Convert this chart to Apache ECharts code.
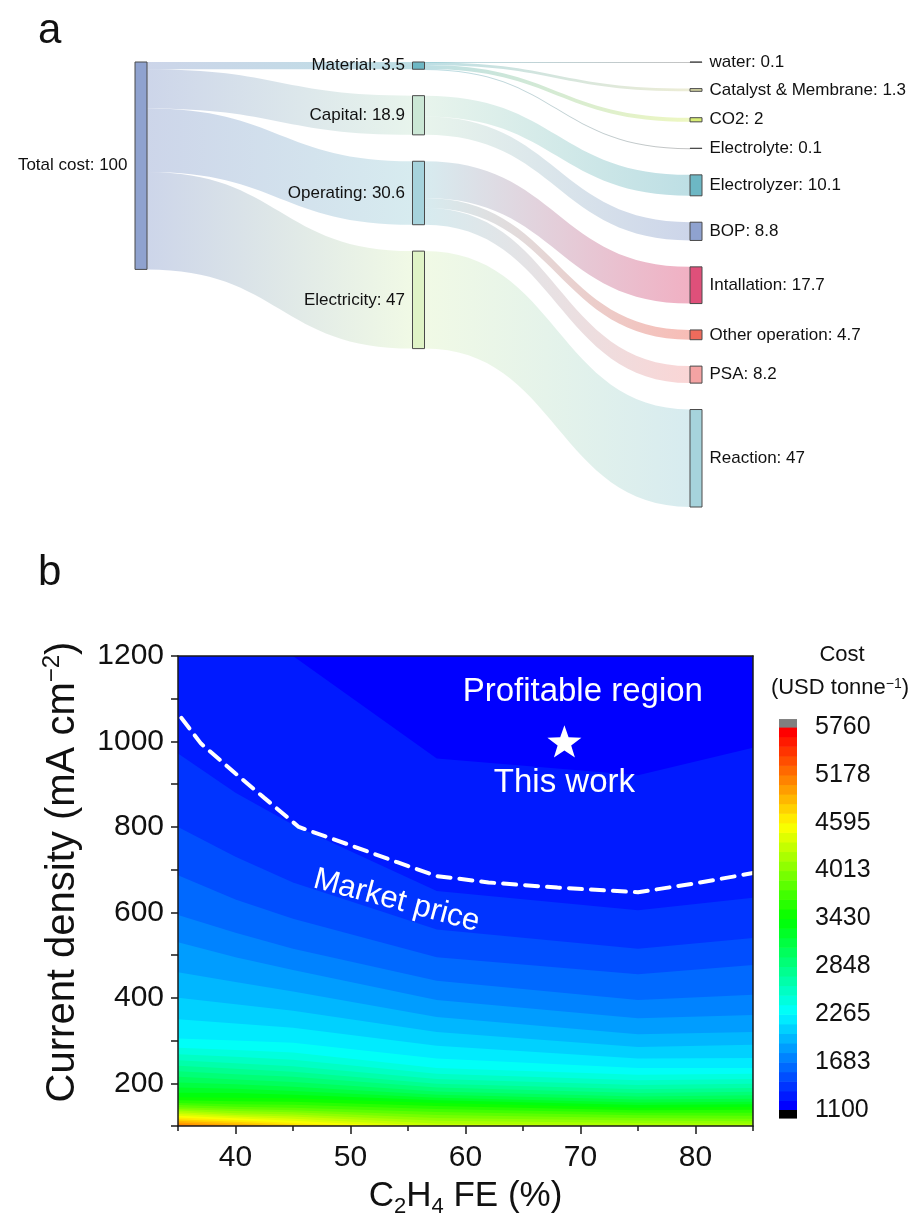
<!DOCTYPE html>
<html>
<head>
<meta charset="utf-8">
<script src="https://cdn.jsdelivr.net/npm/echarts@6/dist/echarts.min.js"></script>
<style>
html, body { margin: 0; padding: 0; background: #ffffff; }
#main { width: 918px; height: 1216px; }
</style>
</head>
<body>
<div id="main"></div>
<script>
// ---------- Panel a: cost breakdown ----------
const nodeNames = ['Total cost', 'Material', 'Capital', 'Operating', 'Electricity',
  'water', 'Catalyst & Membrane', 'CO2', 'Electrolyte', 'Electrolyzer', 'BOP',
  'Intallation', 'Other operation', 'PSA', 'Reaction'];
const nodeValues = [100, 3.5, 18.9, 30.6, 47, 0.1, 1.3, 2, 0.1, 10.1, 8.8, 17.7, 4.7, 8.2, 47];
const linkSources = ['Total cost', 'Total cost', 'Total cost', 'Total cost',
  'Material', 'Material', 'Material', 'Material', 'Capital', 'Capital',
  'Operating', 'Operating', 'Operating', 'Electricity'];
const linkTargets = ['Material', 'Capital', 'Operating', 'Electricity',
  'water', 'Catalyst & Membrane', 'CO2', 'Electrolyte', 'Electrolyzer', 'BOP',
  'Intallation', 'Other operation', 'PSA', 'Reaction'];
const linkValues = [3.5, 18.9, 30.6, 47, 0.1, 1.3, 2, 0.1, 10.1, 8.8, 17.7, 4.7, 8.2, 47];

// ---------- Panel b: cost map over C2H4 FE and current density ----------
const feTicks = [40, 50, 60, 70, 80];
const jTicks = [200, 400, 600, 800, 1000, 1200];
const costTicks = [1100, 1683, 2265, 2848, 3430, 4013, 4595, 5178, 5760];
const costLevels = [1100, 1216.5, 1333, 1449.5, 1566, 1682.5, 1799, 1915.5, 2032, 2148.5,
  2265, 2381.5, 2498, 2614.5, 2731, 2847.5, 2964, 3080.5, 3197, 3313.5,
  3430, 3546.5, 3663, 3779.5, 3896, 4012.5, 4129, 4245.5, 4362, 4478.5,
  4595, 4711.5, 4828, 4944.5, 5061, 5177.5, 5294, 5410.5, 5527, 5643.5, 5760];
// FE positions of the contour vertices
const contourFE = [35, 40, 45, 57.5, 75, 85];
// current density of each iso-cost line (levels 1, 2, 3, ...) at the FE positions
const contourJ = [
  [1330, 1265, 1200, 960, 921, 985],
  [972, 880, 805, 650, 605, 634],
  [800, 730, 670, 560, 515, 540],
  [687, 630, 585, 495, 455, 477],
  [594, 552, 515, 440, 395, 407],
  [530, 495, 465, 395, 352, 360],
  [460, 437, 415, 355, 315, 320],
  [400, 385, 370, 320, 285, 290],
  [350, 340, 330, 288, 258, 259],
  [305, 300, 295, 258, 236, 236],
  [283, 278, 272, 236, 220, 222],
  [268, 262, 255, 222, 207, 210],
  [254, 247, 240, 210, 196, 199],
  [241, 234, 227, 199, 186, 189],
  [228, 221, 215, 190, 177, 180],
  [215, 209, 203, 181, 169, 172],
  [202, 198, 192, 173, 162, 164],
  [190, 187, 182, 166, 155, 157],
  [178, 177, 173, 160, 149, 151],
  [167, 166, 165, 154, 143, 145],
  [160, 158, 157, 147, 137, 138],
  [154, 151, 150, 140, 131, 131],
  [149, 145, 143, 133, 125, 124],
  [144, 140, 137, 126, 119, 117],
  [140, 135, 132, 119, 113, 111],
  [136, 130, 127, 112, 107, 105],
  [132, 126, 122, 106, 101, 99],
  [128, 122, 117, 100, 95, 93],
  [124, 118, 112, 95, 90, 88],
  [120, 114, 107, 91, 86, 84],
  [116, 110, 103, 87, 82, 80],
  [112, 106, 99, 84, 79, 77],
  [108, 102, 95, 81, 76, 74],
  [104, 98, 91, 78, 73, 71],
  [100, 94, 87, 75, 70, 68],
  [97, 91, 84, 72, 67, 65]
];
// market price boundary
const marketFE = [35.3, 37, 40, 42.5, 45.5, 50, 54, 57.5, 62, 68, 75, 80, 85];
const marketJ = [1055, 995, 925, 868, 800, 757, 718, 685, 670, 658, 647, 668, 692];
const thisWork = [68.6, 1000];

// ---------- styles ----------
const FONT = '"Liberation Sans", Arial, Helvetica, sans-serif';
const nodeColors = {
  'Total cost': '#8fa2cf', 'Material': '#6db7c4', 'Capital': '#cbe7d5', 'Operating': '#a6d3dc',
  'Electricity': '#dff3c6', 'water': '#7a7a7a', 'Catalyst & Membrane': '#d6d6a4', 'CO2': '#d9ee76',
  'Electrolyte': '#7a7a7a', 'Electrolyzer': '#6db7c4', 'BOP': '#8fa2cf', 'Intallation': '#df507a',
  'Other operation': '#ee6b5c', 'PSA': '#f4a3a3', 'Reaction': '#a6d3dc'
};
const leftLabelled = ['Total cost', 'Material', 'Capital', 'Operating', 'Electricity'];
const plain = v => String(v);

// rainbow colour scale: blue -> cyan -> green -> yellow -> red
function ramp(t) {
  const stops = [[0, 0, 0, 255], [0.25, 0, 255, 255], [0.5, 0, 255, 0], [0.75, 255, 255, 0], [1, 255, 0, 0]];
  t = Math.max(0, Math.min(1, t));
  for (let i = 1; i < stops.length; i++) {
    if (t <= stops[i][0]) {
      const a = stops[i - 1], b = stops[i];
      const f = (t - a[0]) / (b[0] - a[0]);
      const c = [1, 2, 3].map(k => Math.round(a[k] + (b[k] - a[k]) * f));
      return 'rgb(' + c.join(',') + ')';
    }
  }
  return 'rgb(255,0,0)';
}
const bandCount = costLevels.length - 1;
const bandColor = i => ramp(i / (bandCount - 1));

// ---------- series ----------
const series = [];

series.push({
  type: 'sankey',
  left: 135, top: 62, width: 567, height: 445,
  nodeWidth: 12,
  nodeGap: 26.4,
  layoutIterations: 0,
  draggable: false,
  data: nodeNames.map((n, i) => ({
    name: n,
    value: nodeValues[i],
    itemStyle: { color: nodeColors[n] },
    label: { position: leftLabelled.indexOf(n) >= 0 ? 'left' : 'right' }
  })),
  links: linkSources.map((s, i) => ({ source: s, target: linkTargets[i], value: linkValues[i] })),
  itemStyle: { borderColor: '#4a4a4a', borderWidth: 1 },
  lineStyle: { color: 'gradient', opacity: 0.45, curveness: 0.5 },
  label: {
    fontSize: 17, color: '#111', fontFamily: FONT, distance: 7,
    formatter: p => p.name + ': ' + p.value
  },
  emphasis: { disabled: true }
});

// filled iso-cost bands, drawn from the highest level down
for (let k = contourJ.length; k >= 1; k--) {
  const row = contourJ[k - 1];
  series.push({
    type: 'line',
    xAxisIndex: 0, yAxisIndex: 0,
    data: contourFE.map((fe, i) => [fe, row[i]]),
    symbol: 'none',
    silent: true,
    lineStyle: { width: 0, opacity: 0 },
    areaStyle: { origin: 'end', color: bandColor(k - 1), opacity: 1 },
    z: 2
  });
}

// market price line
series.push({
  type: 'line',
  xAxisIndex: 0, yAxisIndex: 0,
  data: marketFE.map((fe, i) => [fe, marketJ[i]]),
  symbol: 'none', silent: true,
  lineStyle: { color: '#ffffff', width: 4, type: [13, 9], cap: 'round' },
  z: 5
});

// this work marker
series.push({
  type: 'scatter',
  xAxisIndex: 0, yAxisIndex: 0,
  data: [thisWork],
  symbol: 'path://M0,-10 L2.35,-3.24 L9.51,-3.09 L3.8,1.24 L5.88,8.09 L0,4.1 L-5.88,8.09 L-3.8,1.24 L-9.51,-3.09 L-2.35,-3.24 Z',
  symbolKeepAspect: true,
  symbolSize: 34,
  itemStyle: { color: '#ffffff', opacity: 1 },
  silent: true,
  z: 6
});

// annotations inside the map
series.push({
  type: 'scatter',
  xAxisIndex: 0, yAxisIndex: 0,
  symbolSize: 0,
  silent: true,
  z: 6,
  itemStyle: { opacity: 1 },
  data: [
    { name: 'Profitable region', value: [70.2, 1116] },
    { name: 'This work', value: [68.6, 903] },
    { name: 'Market price', value: [54.0, 627], label: { rotate: -15, fontSize: 31 } }
  ],
  label: {
    show: true, position: 'inside', formatter: '{b}', opacity: 1,
    color: '#ffffff', fontSize: 33, fontFamily: FONT
  }
});

// colour bar
const capSize = 97;
const barRows = costLevels.slice(0, -1).map((lo, i) => [lo, costLevels[i + 1], i]);
barRows.push([costLevels[bandCount], costLevels[bandCount] + capSize, -1]);
barRows.push([costLevels[0] - capSize, costLevels[0], -2]);
series.push({
  type: 'custom',
  xAxisIndex: 3, yAxisIndex: 2,
  data: barRows,
  silent: true,
  clip: false,
  renderItem: (params, api) => {
    const lo = api.value(0), hi = api.value(1), idx = api.value(2);
    const p0 = api.coord([0, hi]);
    const p1 = api.coord([1, lo]);
    const fill = idx === -1 ? '#808080' : (idx === -2 ? '#000000' : bandColor(idx));
    return {
      type: 'rect',
      shape: { x: p0[0], y: p0[1], width: p1[0] - p0[0], height: p1[1] - p0[1] + 0.6 },
      style: { fill: fill }
    };
  }
});

const axisLineStyle = { color: '#1a1a1a', width: 1.5 };

const option = {
  animation: false,
  backgroundColor: '#ffffff',
  textStyle: { fontFamily: FONT },
  grid: [
    {
      left: 178, top: 656, width: 575, height: 470, outerBoundsMode: 'none', containLabel: false,
      show: true, borderWidth: 0, backgroundColor: bandColor(contourJ.length)
    },
    { left: 779, top: 727, width: 18, height: 383, outerBoundsMode: 'none', containLabel: false }
  ],
  xAxis: [
    {
      gridIndex: 0, type: 'value', min: 35, max: 85, interval: 5, position: 'bottom', z: 10,
      axisLine: { lineStyle: axisLineStyle },
      axisTick: { length: 5, lineStyle: axisLineStyle },
      splitLine: { show: false },
      axisLabel: { customValues: feTicks, formatter: plain, fontSize: 30, color: '#111', margin: 17 },
      name: 'C{sub|2}H{sub|4} FE (%)',
      nameLocation: 'middle', nameGap: 46,
      nameTextStyle: {
        fontSize: 35, color: '#111', lineHeight: 44,
        rich: { sub: { fontSize: 22, lineHeight: 24, verticalAlign: 'bottom', color: '#111' } }
      }
    },
    {
      gridIndex: 0, type: 'value', min: 35, max: 85, position: 'bottom', z: 10,
      axisLine: { show: false },
      axisTick: { customValues: feTicks, length: 8, lineStyle: axisLineStyle },
      axisLabel: { show: false },
      splitLine: { show: false }
    },
    {
      gridIndex: 0, type: 'value', min: 35, max: 85, position: 'top', z: 10,
      axisLine: { lineStyle: axisLineStyle },
      axisTick: { show: false }, axisLabel: { show: false }, splitLine: { show: false }
    },
    {
      gridIndex: 1, type: 'value', min: 0, max: 1, show: false
    }
  ],
  yAxis: [
    {
      gridIndex: 0, type: 'value', min: 100, max: 1200, interval: 100, position: 'left', z: 10,
      axisLine: { lineStyle: axisLineStyle },
      axisTick: { length: 7, lineStyle: axisLineStyle },
      splitLine: { show: false },
      axisLabel: { customValues: jTicks, formatter: plain, fontSize: 30, color: '#111', margin: 14 },
      name: 'Current density (mA cm{sup|\u22122})',
      nameLocation: 'middle', nameGap: 86,
      nameTextStyle: {
        fontSize: 40, color: '#111', lineHeight: 46, padding: [0, 0, 0, 38],
        rich: { sup: { fontSize: 24, lineHeight: 24, verticalAlign: 'top', color: '#111' } }
      }
    },
    {
      gridIndex: 0, type: 'value', min: 100, max: 1200, position: 'right', z: 10,
      axisLine: { lineStyle: axisLineStyle },
      axisTick: { show: false }, axisLabel: { show: false }, splitLine: { show: false }
    },
    {
      gridIndex: 1, type: 'value', min: 1100, max: 5760, position: 'right',
      axisLine: { show: false }, axisTick: { show: false }, splitLine: { show: false },
      axisLabel: { customValues: costTicks, formatter: plain, fontSize: 25, color: '#111', margin: 18 }
    }
  ],
  graphic: [
    { type: 'text', left: 38, top: 10, style: { text: 'a', font: '42px ' + FONT, fill: '#111' } },
    { type: 'text', left: 38, top: 552, style: { text: 'b', font: '42px ' + FONT, fill: '#111' } },
    { type: 'text', x: 842, y: 655, style: { text: 'Cost', font: '22px ' + FONT, fill: '#111', align: 'center', verticalAlign: 'middle' } },
    {
      type: 'text', x: 840, y: 688,
      style: {
        text: '(USD tonne{sup|\u22121})', font: '22px ' + FONT, fill: '#111',
        align: 'center', verticalAlign: 'middle',
        rich: { sup: { fontSize: 14, lineHeight: 14, verticalAlign: 'top', fill: '#111' } }
      }
    }
  ],
  series: series
};

const chart = echarts.init(document.getElementById('main'), null, { renderer: 'canvas', width: 918, height: 1216 });
chart.setOption(option);
</script>
</body>
</html>
